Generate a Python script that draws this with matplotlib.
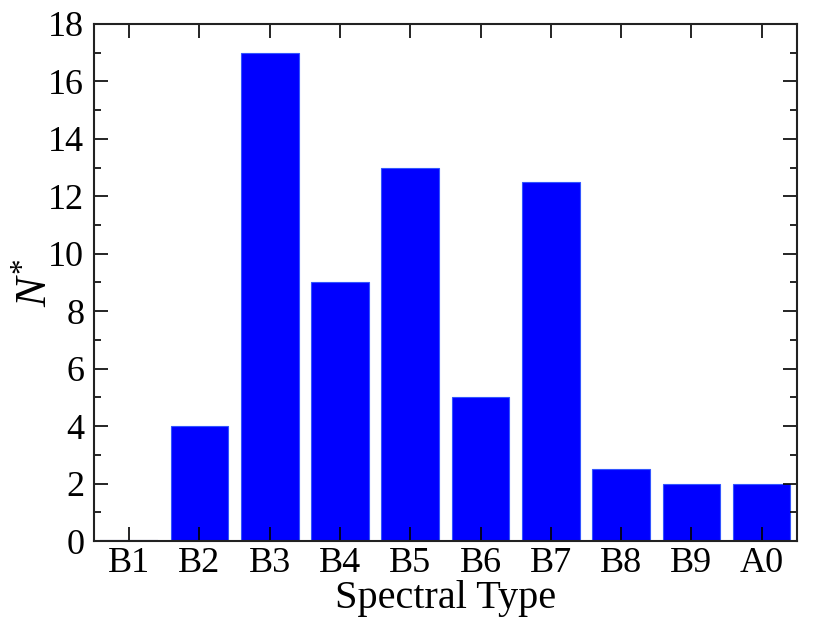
import matplotlib
matplotlib.use("Agg")
import matplotlib.pyplot as plt
from matplotlib.ticker import MultipleLocator

categories = ["B1", "B2", "B3", "B4", "B5", "B6", "B7", "B8", "B9", "A0"]
counts = [0, 4, 17, 9, 13, 5, 12.5, 2.5, 2, 2]

plt.rcParams['font.family'] = ['Liberation Serif']
plt.rcParams['mathtext.fontset'] = 'custom'
plt.rcParams['mathtext.rm'] = 'Liberation Serif'
plt.rcParams['mathtext.it'] = 'Liberation Serif:italic'

fig = plt.figure(figsize=(8.3, 6.23), dpi=100)
ax = fig.add_axes([0.1133, 0.1316, 0.8467, 0.83])

x = list(range(len(categories)))
ax.bar(x, counts, width=0.82, color='#0000ff', edgecolor='#3355ff', linewidth=0.8)
ax.plot([-0.4, 0.4], [0, 0], color='#000066', lw=1.5)

ax.set_xlim(-0.5, 9.5)
ax.set_ylim(0, 18)
ax.set_xticks(x)
ax.set_xticklabels(categories)
ax.yaxis.set_major_locator(MultipleLocator(2))
ax.yaxis.set_minor_locator(MultipleLocator(1))
ax.tick_params(axis='both', which='major', direction='in', length=10, width=1.2,
               top=True, right=True, labelsize=26)
ax.tick_params(axis='x', which='major', pad=4)
ax.tick_params(axis='y', which='major', pad=7)
ax.tick_params(axis='y', which='minor', direction='in', length=5, width=1.2, right=True)
for s in ax.spines.values():
    s.set_linewidth(1.5)
    s.set_color('#222222')

ax.set_xlabel("Spectral Type", fontsize=29, labelpad=0)
ax.set_ylabel(r"$N^{*}$", fontsize=32, labelpad=-5)

fig.savefig("out.png", dpi=100)
